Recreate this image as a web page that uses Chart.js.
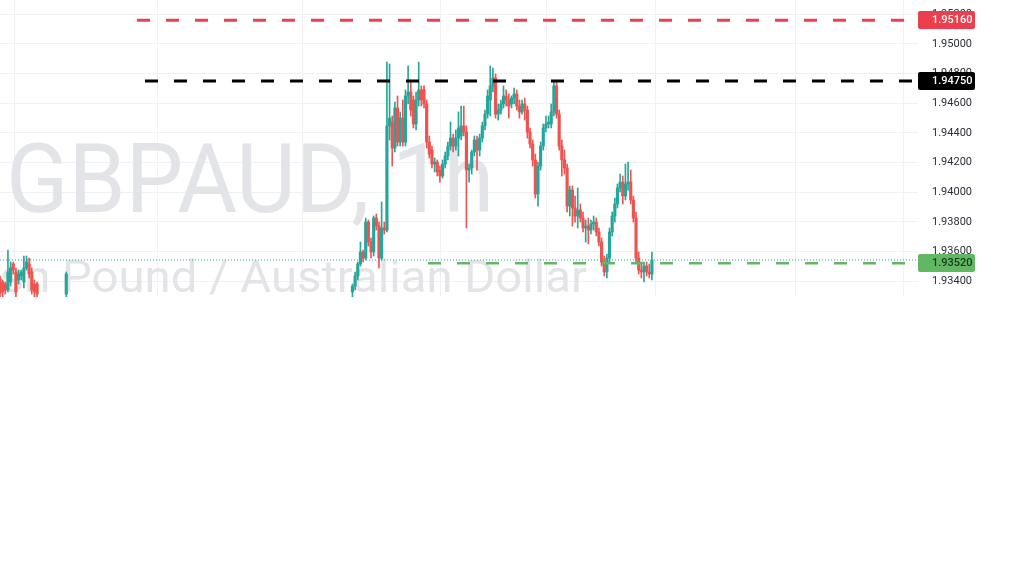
<!DOCTYPE html>
<html><head><meta charset="utf-8">
<script src="https://cdn.jsdelivr.net/npm/chart.js@4.4.1/dist/chart.umd.min.js"></script>
<style>
html,body{margin:0;padding:0;background:#fff;}
#wrap{position:absolute;left:0;top:0;width:1024px;height:297px;}
</style></head><body>
<div id="wrap"><canvas id="c" width="1024" height="297"></canvas></div>
<script>
const symbolTitle = 'GBPAUD, 1h';
const symbolDesc = 'British Pound / Australian Dollar';

// bar (hour) index of each candle
const candleIdx = [0,1,2,3,4,5,6,7,8,9,10,11,12,13,14,25].concat(Array.from({length:114},(_,k)=>133+k));

const openP = [
 1.93420,1.93393,1.93380,1.93339,1.93393,1.93515,1.93461,1.93407,1.93434,1.93393,1.93488,1.93515,1.93461,1.93380,1.93380,1.93312,
 1.93326,1.93366,1.93434,1.93515,1.93596,1.93555,1.93798,1.93663,1.93596,1.93825,
 1.93771,1.93555,1.93758,1.93744,1.94447,1.94473,1.94298,1.94568,1.94338,1.94500,
 1.94338,1.94649,1.94676,1.94622,1.94460,1.94622,1.94690,1.94690,1.94595,1.94338,
 1.94284,1.94190,1.94203,1.94149,1.94109,1.94190,1.94244,1.94311,1.94365,1.94311,
 1.94365,1.94379,1.94447,1.94406,1.94149,1.94163,1.94271,1.94352,1.94284,1.94365,
 1.94447,1.94527,1.94622,1.94717,1.94771,1.94527,1.94554,1.94595,1.94649,1.94622,
 1.94595,1.94635,1.94662,1.94581,1.94541,1.94595,1.94554,1.94406,1.94325,1.94217,
 1.93987,1.94176,1.94311,1.94433,1.94460,1.94460,1.94541,1.94717,1.94527,1.94311,
 1.94217,1.94163,1.93906,1.94014,1.93893,1.93839,1.93879,1.93825,1.93758,1.93771,
 1.93744,1.93785,1.93798,1.93731,1.93663,1.93528,1.93461,1.93555,1.93731,1.93839,
 1.93920,1.94028,1.94068,1.93974,1.94055,1.94068,1.93947,1.93825,1.93555,1.93474,
 1.93461,1.93501,1.93461,1.93447
];
const highP = [
 1.93434,1.93407,1.93393,1.93609,1.93528,1.93528,1.93488,1.93474,1.93474,1.93569,1.93569,1.93555,1.93488,1.93407,1.93393,1.93461,
 1.93380,1.93461,1.93528,1.93663,1.93609,1.93825,1.93812,1.93690,1.93839,1.93852,
 1.93798,1.93933,1.93798,1.94878,1.94865,1.94514,1.94608,1.94649,1.94541,1.94622,
 1.94690,1.94852,1.94757,1.94649,1.94676,1.94878,1.94717,1.94717,1.94622,1.94379,
 1.94311,1.94230,1.94217,1.94176,1.94217,1.94271,1.94338,1.94473,1.94392,1.94420,
 1.94541,1.94581,1.94581,1.94447,1.94190,1.94284,1.94379,1.94379,1.94392,1.94473,
 1.94554,1.94690,1.94852,1.94838,1.94798,1.94595,1.94622,1.94717,1.94690,1.94662,
 1.94649,1.94703,1.94690,1.94622,1.94622,1.94635,1.94581,1.94433,1.94352,1.94257,
 1.94203,1.94338,1.94460,1.94514,1.94514,1.94595,1.94744,1.94744,1.94554,1.94352,
 1.94284,1.94190,1.94041,1.94041,1.93974,1.94028,1.93920,1.93866,1.93812,1.93825,
 1.93812,1.93839,1.93825,1.93758,1.93690,1.93569,1.93582,1.93758,1.93866,1.93960,
 1.94055,1.94122,1.94109,1.94190,1.94203,1.94149,1.93974,1.93866,1.93596,1.93528,
 1.93528,1.93528,1.93515,1.93596
];
const lowP = [
 1.93280,1.93280,1.93312,1.93326,1.93366,1.93447,1.93280,1.93380,1.93407,1.93353,1.93474,1.93420,1.93312,1.93280,1.93280,1.93280,
 1.93286,1.93339,1.93407,1.93501,1.93528,1.93542,1.93636,1.93555,1.93569,1.93744,
 1.93488,1.93542,1.93717,1.93731,1.94352,1.94176,1.94271,1.94311,1.94311,1.94311,
 1.94311,1.94595,1.94514,1.94433,1.94420,1.94581,1.94581,1.94568,1.94298,1.94230,
 1.94163,1.94136,1.94109,1.94068,1.94095,1.94163,1.94217,1.94284,1.94271,1.94284,
 1.94244,1.94352,1.94379,1.93758,1.94068,1.94122,1.94244,1.94149,1.94244,1.94338,
 1.94420,1.94500,1.94514,1.94676,1.94500,1.94487,1.94527,1.94568,1.94581,1.94500,
 1.94568,1.94595,1.94554,1.94500,1.94527,1.94487,1.94365,1.94298,1.94176,1.93960,
 1.93906,1.94149,1.94284,1.94406,1.94433,1.94433,1.94514,1.94500,1.94284,1.94109,
 1.94122,1.93866,1.93839,1.93771,1.93798,1.93758,1.93798,1.93731,1.93663,1.93650,
 1.93717,1.93744,1.93704,1.93636,1.93501,1.93434,1.93420,1.93528,1.93704,1.93798,
 1.93893,1.94001,1.93920,1.93947,1.94014,1.93920,1.93798,1.93528,1.93447,1.93420,
 1.93393,1.93434,1.93420,1.93407
];
const closeP = [
 1.93319,1.93326,1.93339,1.93461,1.93488,1.93474,1.93326,1.93447,1.93461,1.93488,1.93528,1.93447,1.93339,1.93326,1.93312,1.93447,
 1.93366,1.93434,1.93515,1.93596,1.93555,1.93798,1.93663,1.93596,1.93825,1.93771,
 1.93555,1.93758,1.93744,1.94447,1.94500,1.94298,1.94568,1.94338,1.94500,1.94338,
 1.94649,1.94676,1.94554,1.94460,1.94622,1.94690,1.94622,1.94595,1.94338,1.94257,
 1.94190,1.94203,1.94136,1.94109,1.94190,1.94244,1.94311,1.94365,1.94311,1.94365,
 1.94433,1.94447,1.94406,1.94149,1.94163,1.94271,1.94352,1.94284,1.94365,1.94447,
 1.94527,1.94649,1.94717,1.94771,1.94527,1.94554,1.94595,1.94649,1.94622,1.94581,
 1.94635,1.94662,1.94581,1.94541,1.94595,1.94554,1.94406,1.94325,1.94217,1.93987,
 1.94176,1.94311,1.94433,1.94460,1.94473,1.94541,1.94717,1.94527,1.94311,1.94217,
 1.94163,1.93906,1.94014,1.93893,1.93839,1.93879,1.93825,1.93758,1.93771,1.93744,
 1.93785,1.93798,1.93731,1.93663,1.93528,1.93461,1.93555,1.93731,1.93839,1.93920,
 1.94028,1.94068,1.93974,1.94055,1.94068,1.93947,1.93825,1.93555,1.93474,1.93461,
 1.93501,1.93461,1.93447,1.93542
];

const yTickVals = [1.934,1.936,1.938,1.940,1.942,1.944,1.946,1.948,1.950,1.952];
const timeGridIdx = [5.66,59.25,113.96,166.04,206.4,247.2,300,340.75];

const levelValues = [1.9516, 1.9475, 1.9352];
const levelStartIdx = [51.7, 54.7, 161.5];
const levelLineColors = ['#e8414f','#000000','#66b566'];
const levelTagBg = ['#ec3f4d','#000000','#62b862'];
const levelTagFg = ['#ffffff','#ffffff','#15391a'];

const X_MIN = 0, X_MAX = 346.4;
const Y_MIN = 1.93292, Y_MAX = 1.95297;
const UP = '#26a69a', DOWN = '#ef5350';

const candleColors = closeP.map((c,i)=> c >= openP[i] ? UP : DOWN);
const bodies = candleIdx.map((x,i)=>({x, y:[openP[i], closeP[i]]}));
const wicks = candleIdx.map((x,i)=>({x, y:[lowP[i], highP[i]]}));
const lastClose = closeP[closeP.length-1];

const levelDatasets = levelValues.map((v,i)=>({
  type:'line',
  data:[{x:levelStartIdx[i], y:v},{x:X_MAX, y:v}],
  borderColor: levelLineColors[i],
  borderWidth: i===2 ? 2.5 : 3,
  borderDash:[13,16],
  pointRadius:0, fill:false, order:0, clip:0
}));

const priceLine = {
  type:'line',
  data:[{x:X_MIN, y:lastClose},{x:X_MAX, y:lastClose}],
  borderColor:'#26a69a', borderWidth:1, borderDash:[1,2],
  pointRadius:0, fill:false, order:1, clip:0
};

const watermark = {
  id:'watermark',
  beforeDatasetsDraw(chart){
    const {ctx, chartArea:a} = chart;
    ctx.save();
    ctx.beginPath(); ctx.rect(a.left, a.top, a.right-a.left, a.bottom-a.top); ctx.clip();
    ctx.fillStyle = '#e3e4e7';
    ctx.textBaseline = 'alphabetic';
    ctx.font = '97px Roboto';
    const w1 = ctx.measureText(symbolTitle).width;
    ctx.save();
    ctx.translate(6, 212); ctx.scale(488 / w1, 1);
    ctx.textAlign = 'left'; ctx.fillText(symbolTitle, 0, 0);
    ctx.restore();
    ctx.font = '44px Roboto';
    const tail = symbolDesc.slice(symbolDesc.indexOf('Pound'));
    const w2 = ctx.measureText(tail).width;
    ctx.save();
    ctx.translate(587, 292); ctx.scale(525 / w2, 1);
    ctx.textAlign = 'right'; ctx.fillText(symbolDesc, 0, 0);
    ctx.restore();
    ctx.restore();
  }
};

const tags = {
  id:'tags',
  afterDraw(chart){
    const {ctx, chartArea:a, scales:{y}} = chart;
    ctx.save();
    levelValues.forEach((v,i)=>{
      const py = Math.round(y.getPixelForValue(v));
      ctx.fillStyle = levelTagBg[i];
      ctx.beginPath();
      if (ctx.roundRect) ctx.roundRect(a.right, py-9, 57, 18, 2); else ctx.rect(a.right, py-9, 57, 18);
      ctx.fill();
      ctx.fillStyle = levelTagFg[i];
      ctx.font = '500 11px Roboto';
      ctx.textAlign = 'left';
      ctx.textBaseline = 'middle';
      ctx.fillText(v.toFixed(5), a.right + 14, py + 0.5);
    });
    ctx.restore();
  }
};

new Chart(document.getElementById('c'), {
  type:'bar',
  data:{
    datasets:[
      ...levelDatasets,
      priceLine,
      { type:'bar', data:bodies, backgroundColor:candleColors, borderWidth:0,
        barThickness:2.5, minBarLength:1, grouped:false, order:2, clip:0 },
      { type:'bar', data:wicks, backgroundColor:candleColors, borderWidth:0,
        barThickness:1, grouped:false, order:3, clip:0 }
    ]
  },
  options:{
    responsive:false, animation:false, devicePixelRatio:1,
    layout:{padding:0},
    plugins:{legend:{display:false}, tooltip:{enabled:false}},
    scales:{
      x:{ type:'linear', min:X_MIN, max:X_MAX, offset:false,
        afterBuildTicks: ax => { ax.ticks = timeGridIdx.map(v=>({value:v})); },
        ticks:{display:false},
        grid:{color:'#eff1f4', drawTicks:false, offset:false},
        border:{display:false},
        afterFit: ax => { ax.height = 0; }
      },
      y:{ position:'right', min:Y_MIN, max:Y_MAX,
        afterBuildTicks: ax => { ax.ticks = yTickVals.map(v=>({value:v})); },
        ticks:{ padding:14, color:'#2a2e39', font:{family:'Roboto', size:11},
          callback: v => Number(v).toFixed(5) },
        grid:{color:'#eff1f4', drawTicks:false},
        border:{display:false},
        afterFit: ax => { ax.width = 106; ax.paddingTop = 0; ax.paddingBottom = 0; }
      }
    }
  },
  plugins:[watermark, tags]
});
</script>
</body></html>
